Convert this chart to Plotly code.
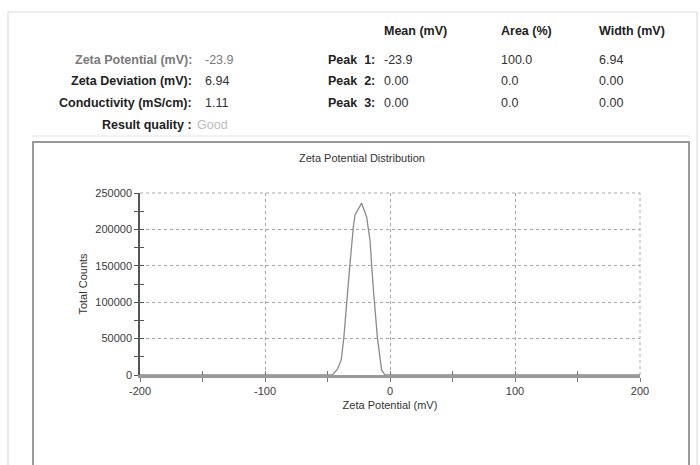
import plotly.graph_objects as go

# ---- data ----
zeta_mv = [-200, -46, -42, -39, -37, -34.7, -32, -29.3, -28, -22.7, -18.7, -16, -13.3, -10, -6.7, -4, 200]
total_counts = [0, 0, 8000, 21000, 50000, 103000, 153000, 204000, 220000, 236000, 217000, 185000, 117000, 50000, 7000, 0, 0]

x_ticks = [-200, -100, 0, 100, 200]
x_tick_labels = ["-200", "-100", "0", "100", "200"]
y_ticks = [0, 50000, 100000, 150000, 200000, 250000]
y_tick_labels = ["0", "50000", "100000", "150000", "200000", "250000"]

info_labels = ["Zeta Potential (mV):", "Zeta Deviation (mV):", "Conductivity (mS/cm):", "Result quality :"]
info_values = ["-23.9", "6.94", "1.11", "Good"]
peak_headers = ["Mean (mV)", "Area (%)", "Width (mV)"]
peak_names = ["Peak&nbsp; 1:", "Peak&nbsp; 2:", "Peak&nbsp; 3:"]
peak_mean = ["-23.9", "0.00", "0.00"]
peak_area = ["100.0", "0.0", "0.0"]
peak_width = ["6.94", "0.00", "0.00"]

W, H = 700, 465
L, R, T, B = 140, 60, 193, 90
PW, PH = W - L - R, H - T - B

def px(x):
    return (x - L) / PW

def py(y):
    return (H - B - y) / PH

FONT = "Liberation Sans, Arial, sans-serif"

fig = go.Figure()
fig.add_trace(go.Scatter(x=zeta_mv, y=total_counts, mode="lines",
                         line=dict(color="#8a8a8a", width=1.3), showlegend=False,
                         hoverinfo="skip"))
# dummy trace for overlay axes (inside ticks -> crossing tick marks)
fig.add_trace(go.Scatter(x=zeta_mv, y=total_counts, mode="lines", xaxis="x2", yaxis="y2",
                         line=dict(color="rgba(0,0,0,0)", width=0), showlegend=False,
                         hoverinfo="skip"))

axis_font = dict(family=FONT, size=11, color="#3a3a3a")
fig.update_layout(
    width=W, height=H,
    margin=dict(l=L, r=R, t=T, b=B),
    paper_bgcolor="white", plot_bgcolor="white",
    font=dict(family=FONT, size=11, color="#333"),
    xaxis=dict(range=[-200, 200], tickvals=x_ticks, ticktext=x_tick_labels, ticks="outside", ticklen=4,
               tickcolor="#777", tickwidth=1,
               minor=dict(dtick=50, tick0=0, ticks="outside", ticklen=4, tickcolor="#777", showgrid=False),
               showgrid=True, gridcolor="#a8a8a8", griddash="dot", gridwidth=1,
               showline=True, linecolor="#9a9a9a", linewidth=2.5, zeroline=False,
               tickfont=axis_font,
               title=dict(text="Zeta Potential (mV)", font=dict(family=FONT, size=11, color="#333"), standoff=6)),
    yaxis=dict(range=[0, 250000], tickvals=y_ticks, ticktext=y_tick_labels, ticks="outside", ticklen=4,
               tickcolor="#555", tickwidth=1,
               minor=dict(dtick=25000, tick0=0, ticks="outside", ticklen=4, tickcolor="#555", showgrid=False),
               showgrid=True, gridcolor="#a8a8a8", griddash="dot", gridwidth=1,
               showline=True, linecolor="#555", linewidth=1.5, zeroline=False,
               tickfont=axis_font,
               title=dict(text="Total Counts", font=dict(family=FONT, size=11, color="#333"), standoff=5)),
    xaxis2=dict(range=[-200, 200], overlaying="x", tickvals=x_ticks, ticks="inside", ticklen=4,
                tickcolor="#777", showticklabels=False, showgrid=False, zeroline=False, showline=False,
                minor=dict(dtick=50, tick0=0, ticks="inside", ticklen=4, tickcolor="#777", showgrid=False)),
    yaxis2=dict(range=[0, 250000], overlaying="y", tickvals=y_ticks, ticks="inside", ticklen=4,
                tickcolor="#555", showticklabels=False, showgrid=False, zeroline=False, showline=False,
                minor=dict(dtick=25000, tick0=0, ticks="inside", ticklen=4, tickcolor="#555", showgrid=False)),
)

shapes = [
    # outer light panel
    dict(type="rect", xref="paper", yref="paper", x0=px(8), x1=px(697), y0=py(480), y1=py(12),
         line=dict(color="#dcdcdc", width=1.2), layer="below"),
    # faint separator line
    dict(type="line", xref="paper", yref="paper", x0=px(32), x1=px(690), y0=py(136), y1=py(136),
         line=dict(color="#e4e4e4", width=1), layer="below"),
    # plot frame
    dict(type="rect", xref="paper", yref="paper", x0=px(33), x1=px(689), y0=py(480), y1=py(142),
         line=dict(color="#9a9a9a", width=2), layer="below"),
    # dotted grid at the top and right edges of the plot area
    dict(type="line", xref="paper", yref="paper", x0=0, x1=1, y0=1, y1=1,
         line=dict(color="#a8a8a8", width=1, dash="dot"), layer="below"),
    dict(type="line", xref="paper", yref="paper", x0=1, x1=1, y0=0, y1=1,
         line=dict(color="#a8a8a8", width=1, dash="dot"), layer="below"),
]
fig.update_layout(shapes=shapes)

ann = []
def text(x, y, s, anchor="left", color="#333", bold=False, size=12.5):
    ann.append(dict(xref="paper", yref="paper", x=px(x), y=py(y), text=("<b>%s</b>" % s) if bold else s,
                    showarrow=False, xanchor=anchor, yanchor="middle",
                    font=dict(family=FONT, size=size, color=color)))

rows_y = [60, 81, 103, 125]
label_colors = ["#7a7a7a", "#222", "#222", "#222"]
value_colors = ["#7a7a7a", "#333", "#333", "#bdbdbd"]
for i, (lab, val) in enumerate(zip(info_labels, info_values)):
    text(194, rows_y[i], lab, anchor="right", color=label_colors[i], bold=True)
    text(203 if i < 3 else 195, rows_y[i], val, anchor="left", color=value_colors[i])

head_x = [382, 499, 597]
for hx, h in zip(head_x, peak_headers):
    text(hx, 31, h, anchor="left", color="#222", bold=True)
for i, name in enumerate(peak_names):
    text(377, rows_y[i], name, anchor="right", color="#222", bold=True)
    text(head_x[0], rows_y[i], peak_mean[i], color="#333")
    text(head_x[1], rows_y[i], peak_area[i], color="#333")
    text(head_x[2], rows_y[i], peak_width[i], color="#333")

# chart title
text(362, 158, "Zeta Potential Distribution", anchor="center", color="#333", size=11)

fig.update_layout(annotations=ann)
fig.write_html("out.html")
